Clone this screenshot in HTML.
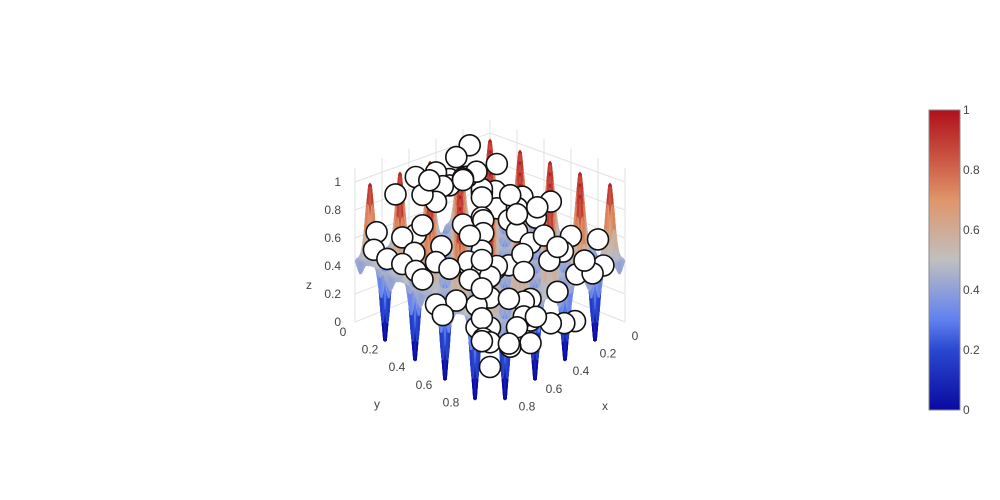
<!DOCTYPE html>
<html><head><meta charset="utf-8"><style>
body{margin:0;background:#fff;font-family:"Liberation Sans",sans-serif}
svg{display:block}
text{font-family:"Liberation Sans",sans-serif;font-size:12px;fill:#444}
</style></head><body>
<svg id="chart" width="1000" height="500">
<defs><linearGradient id="cg" x1="0" y1="1" x2="0" y2="0">
<stop offset="0" stop-color="#0a0aa0"/><stop offset="0.2" stop-color="#2a48d0"/><stop offset="0.3" stop-color="#6080f0"/>
<stop offset="0.5" stop-color="#c0c0c0"/><stop offset="0.7" stop-color="#e0956a"/><stop offset="0.85" stop-color="#c85040"/><stop offset="1" stop-color="#b0101c"/>
</linearGradient></defs>
<g id="walls"></g>
<g id="surf"></g>
<g id="marks"></g>
<g id="labels"></g>
<g>
<rect x="929" y="110" width="31" height="300" fill="url(#cg)" stroke="#888" stroke-width="1"/>
<g id="cbt"></g>
</g>
</svg>
<script>
const zTicks=[0,0.2,0.4,0.6,0.8,1];
const xTicks=[0,0.2,0.4,0.6,0.8];
const yTicks=[0,0.2,0.4,0.6,0.8];
const cbTicks=[0,0.2,0.4,0.6,0.8,1];
const mx=[0.05,0.1,0.2,0.3,0.4,0.5,0.6,0.7,0.8,0.9,0.15,0.25,0.35,0.45,0.55,0.65,0.75,0.85,0.1,0.3,0.5,0.7,0.9,0.2,0.4,0.6,0.8,0.05,0.35,0.65,0.95,0.15,0.45,0.75,0.25,0.55,0.85,0.6,0.9,0.95,0.7,0.8,0.5,0.3,0.1,0.4,0.2,0.9,0.75,0.6,
0.08,0.18,0.28,0.38,0.48,0.58,0.68,0.78,0.88,0.98,0.12,0.22,0.32,0.42,0.52,0.62,0.72,0.82,0.92,0.02,0.14,0.34,0.54,0.74,0.94,0.24,0.44,0.64,0.84,0.04,0.16,0.36,0.56,0.76,0.96,0.26,0.46,0.66,0.86,0.06,0.5,0.3,0.7,0.1,0.9,0.45,0.55,0.35,0.65,0.25];
const my=[0.1,0.3,0.05,0.2,0.1,0.3,0.05,0.25,0.15,0.35,0.5,0.45,0.55,0.4,0.6,0.5,0.45,0.6,0.7,0.8,0.75,0.7,0.85,0.9,0.95,0.85,0.95,0.5,0.15,0.1,0.6,0.2,0.25,0.35,0.65,0.8,0.75,0.6,0.9,0.95,0.9,0.8,0.95,0.6,0.9,0.35,0.35,0.5,0.65,0.45,
0.02,0.12,0.22,0.32,0.42,0.52,0.62,0.72,0.82,0.92,0.96,0.86,0.76,0.66,0.56,0.46,0.36,0.26,0.16,0.06,0.68,0.04,0.14,0.24,0.44,0.38,0.58,0.78,0.98,0.28,0.92,0.86,0.9,0.06,0.1,0.2,0.06,0.16,0.02,0.4,0.15,0.05,0.55,0.3,0.25,0.75,0.85,0.98,0.95,0.08];
const mz=[0.5,0.6,1.0,0.9,0.8,0.95,0.5,1.0,0.6,0.5,0.7,0.55,0.75,0.6,0.5,0.7,0.5,0.4,0.55,0.6,0.5,0.4,0.3,0.5,0.2,0.3,0.25,0.7,0.85,0.95,0.35,0.9,0.6,0.5,0.6,0.35,0.3,0.45,0.3,0.2,0.3,0.3,0.25,0.55,0.6,0.65,0.75,0.35,0.35,0.45,
0.6,0.7,0.55,0.65,0.5,0.45,0.6,0.5,0.4,0.35,0.45,0.4,0.5,0.55,0.45,0.5,0.6,0.55,0.5,0.6,0.45,0.8,0.75,0.7,0.5,0.6,0.45,0.4,0.3,0.65,0.4,0.35,0.3,0.85,0.55,0.7,0.9,0.85,0.6,0.55,0.85,0.95,0.45,0.6,0.5,0.3,0.25,0.2,0.2,0.8];
const back=[490,268],left=[355,322],right=[625,322],front=[490,410];
const zs=[135,140,140,175];
function P(x,y,z){
 const w=[(1-x)*(1-y),x*(1-y),(1-x)*y,x*y];
 const bx=back[0]*w[0]+left[0]*w[1]+right[0]*w[2]+front[0]*w[3];
 const by=back[1]*w[0]+left[1]*w[1]+right[1]*w[2]+front[1]*w[3];
 const s=zs[0]*w[0]+zs[1]*w[1]+zs[2]*w[2]+zs[3]*w[3];
 return [bx,by-z*s];
}
const stops=[[0,[10,10,160]],[0.2,[42,72,208]],[0.3,[96,128,240]],[0.5,[192,192,192]],[0.7,[224,149,106]],[0.85,[200,80,64]],[1,[176,16,28]]];
function col(v){v=Math.max(0,Math.min(1,v));for(let i=1;i<stops.length;i++){if(v<=stops[i][0]){const a=stops[i-1],b=stops[i],t=(v-a[0])/(b[0]-a[0]);return 'rgb('+a[1].map((c,k)=>Math.round(c+(b[1][k]-c)*t)).join(',')+')';}}return 'rgb(176,16,28)';}
function f(x,y){const s=Math.sin(9*Math.PI*x+0.5)*Math.sin(9*Math.PI*y+0.5);const t=Math.sign(s)*Math.pow(Math.abs(s),2.5);return 0.45+0.55*t;}
const NS='http://www.w3.org/2000/svg';
function mk(tag,attrs,parent){const e=document.createElementNS(NS,tag);for(const k in attrs)e.setAttribute(k,attrs[k]);parent.appendChild(e);return e;}
const walls=document.getElementById('walls');
for(const t of [0,0.2,0.4,0.6,0.8,1]){
 let a=P(0,0,t),b=P(1,0,t),c=P(0,1,t);
 let l=mk('polyline',{points:b.join(',')+' '+a.join(',')+' '+c.join(','),fill:'none',stroke:'#e2e2e2'},walls);
 
 
}
for(const t of [0,0.2,0.4,0.6,0.8,1]){
 let a=P(t,0,0),b=P(t,0,1.1);
 let l=mk('line',{x1:a[0],y1:a[1],x2:b[0],y2:b[1],stroke:'#e2e2e2'},walls);
 
 
 a=P(0,t,0);b=P(0,t,1.1);
 l=mk('line',{x1:a[0],y1:a[1],x2:b[0],y2:b[1],stroke:'#e2e2e2'},walls);
 
 
}
const surf=document.getElementById('surf');
const N=90,quads=[];
for(let i=0;i<N;i++)for(let j=0;j<N;j++){
 const x0=i/N,x1=(i+1)/N,y0=j/N,y1=(j+1)/N;
 const z=[f(x0,y0),f(x1,y0),f(x1,y1),f(x0,y1)];
 quads.push({d:x0+y0,pts:[P(x0,y0,z[0]),P(x1,y0,z[1]),P(x1,y1,z[2]),P(x0,y1,z[3])],c:col((z[0]+z[1]+z[2]+z[3])/4)});
}
quads.sort((a,b)=>a.d-b.d);
for(const q of quads){
 mk('polygon',{points:q.pts.map(v=>v[0].toFixed(1)+','+v[1].toFixed(1)).join(' '),fill:q.c,stroke:q.c,'stroke-width':0.6},surf);
}
const marks=document.getElementById('marks');
const order=mx.map((v,i)=>i).sort((a,b)=>(mx[a]+my[a])-(mx[b]+my[b]));
for(const i of order){
 const p=P(mx[i],my[i],mz[i]);
 const c=mk('circle',{cx:p[0].toFixed(1),cy:p[1].toFixed(1),r:10.5,fill:'#fff',stroke:'#111','stroke-width':1.6},marks);
 
 
}
const lab=document.getElementById('labels');
for(const t of zTicks){const p=P(1,0,t);const e=mk('text',{x:p[0]-14,y:p[1]+4,'text-anchor':'end'},lab);e.textContent=String(t);
 }
for(const t of yTicks){const p=P(1,t,0);const e=mk('text',{x:p[0]-12,y:p[1]+14,'text-anchor':'middle'},lab);e.textContent=String(t);
 }
for(const t of xTicks){const p=P(t,1,0);const e=mk('text',{x:p[0]+10,y:p[1]+18,'text-anchor':'middle'},lab);e.textContent=String(t);
 }
let e=mk('text',{x:306,y:289,'font-size':13},lab);e.textContent='z';
e=mk('text',{x:374,y:408,'font-size':13},lab);e.textContent='y';
e=mk('text',{x:602,y:410,'font-size':13},lab);e.textContent='x';
const cbt=document.getElementById('cbt');
for(const t of cbTicks){const y=410-t*300;const e=mk('text',{x:963,y:y+4},cbt);e.textContent=String(t);
 }
</script>
</body></html>
